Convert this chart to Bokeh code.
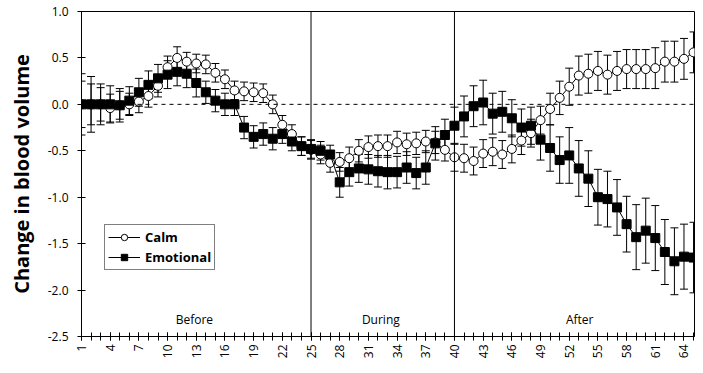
import numpy as np
from bokeh.plotting import figure
from bokeh.models import (ColumnDataSource, Whisker, TeeHead, Span, Label, Legend, LegendItem,
                          FixedTicker, PrintfTickFormatter, Range1d)
from bokeh.embed import file_html
from bokeh.resources import INLINE
from math import pi

# ---- data ----
samples = list(range(1, 66))
calm = [0.0, 0.0, 0.0, -0.04, -0.01, 0.0, 0.03, 0.09, 0.2, 0.4,
        0.5, 0.46, 0.44, 0.43, 0.34, 0.27, 0.15, 0.14, 0.13, 0.12,
        0.0, -0.22, -0.32, -0.45, -0.49, -0.54, -0.63, -0.62, -0.58, -0.5,
        -0.46, -0.45, -0.45, -0.41, -0.43, -0.42, -0.4, -0.41, -0.49, -0.57,
        -0.58, -0.61, -0.53, -0.51, -0.54, -0.48, -0.39, -0.31, -0.17, -0.05,
        0.07, 0.19, 0.31, 0.33, 0.36, 0.32, 0.36, 0.38, 0.38, 0.38,
        0.39, 0.46, 0.46, 0.49, 0.56]
calm_err = [0.25, 0.22, 0.18, 0.15, 0.15, 0.12, 0.12, 0.12, 0.12, 0.12,
            0.12, 0.1, 0.1, 0.1, 0.1, 0.1, 0.1, 0.1, 0.1, 0.1,
            0.1, 0.1, 0.1, 0.1, 0.1, 0.1, 0.1, 0.1, 0.12, 0.12,
            0.12, 0.12, 0.12, 0.12, 0.12, 0.12, 0.12, 0.12, 0.12, 0.15,
            0.15, 0.15, 0.15, 0.15, 0.15, 0.15, 0.15, 0.15, 0.15, 0.17,
            0.18, 0.2, 0.21, 0.21, 0.21, 0.21, 0.21, 0.21, 0.21, 0.21,
            0.22, 0.22, 0.22, 0.22, 0.22]
emotional = [0.0, 0.0, 0.0, 0.0, -0.01, 0.04, 0.13, 0.21, 0.28, 0.32,
             0.35, 0.33, 0.23, 0.13, 0.04, 0.0, 0.0, -0.25, -0.35, -0.32,
             -0.37, -0.32, -0.4, -0.45, -0.48, -0.5, -0.54, -0.84, -0.73, -0.69,
             -0.7, -0.72, -0.73, -0.73, -0.68, -0.74, -0.68, -0.42, -0.33, -0.23,
             -0.13, -0.02, 0.02, -0.1, -0.08, -0.15, -0.25, -0.23, -0.38, -0.47,
             -0.6, -0.55, -0.69, -0.8, -1.0, -1.02, -1.11, -1.29, -1.43, -1.36,
             -1.44, -1.59, -1.69, -1.64, -1.65]
emotional_err = [0.33, 0.3, 0.22, 0.2, 0.18, 0.15, 0.15, 0.15, 0.15, 0.15,
                 0.15, 0.15, 0.15, 0.12, 0.12, 0.12, 0.12, 0.12, 0.12, 0.12,
                 0.12, 0.1, 0.1, 0.1, 0.1, 0.1, 0.1, 0.16, 0.15, 0.15,
                 0.16, 0.17, 0.18, 0.17, 0.17, 0.17, 0.18, 0.18, 0.17, 0.2,
                 0.22, 0.22, 0.24, 0.22, 0.22, 0.2, 0.2, 0.2, 0.22, 0.25,
                 0.25, 0.3, 0.3, 0.3, 0.3, 0.3, 0.3, 0.3, 0.35, 0.35,
                 0.35, 0.35, 0.36, 0.35, 0.38]
phase_bounds = [25, 40]
phase_names = ["Before", "During", "After"]
phase_label_x = [12.8, 32.3, 53.1]
phase_label_y = -2.32
x_tick_labels = list(range(1, 66, 3))
y_ticks = [-2.5, -2.0, -1.5, -1.0, -0.5, 0.0, 0.5, 1.0]

FONT = "Open Sans"

src_c = ColumnDataSource(dict(x=samples, y=calm,
                              lo=[v - e for v, e in zip(calm, calm_err)],
                              hi=[v + e for v, e in zip(calm, calm_err)]))
src_e = ColumnDataSource(dict(x=samples, y=emotional,
                              lo=[v - e for v, e in zip(emotional, emotional_err)],
                              hi=[v + e for v, e in zip(emotional, emotional_err)]))

p = figure(width=695, height=365, output_backend="svg", toolbar_location=None,
           x_range=Range1d(1, 65.1), y_range=Range1d(-2.5, 1.0),
           min_border_left=81, min_border_right=1, min_border_top=11, min_border_bottom=29)
p.grid.visible = False
p.outline_line_color = "black"
p.outline_line_width = 1
p.background_fill_color = "white"

# phase boundaries and zero line
for b in phase_bounds:
    p.add_layout(Span(location=b, dimension="height", line_color="black", line_width=1))
p.add_layout(Span(location=0, dimension="width", line_color="black", line_width=1, line_dash="4 4"))

# error bars
for src in (src_c, src_e):
    w = Whisker(source=src, base="x", lower="lo", upper="hi", line_color="black", line_width=1,
                upper_head=TeeHead(size=8, line_color="black", line_width=1),
                lower_head=TeeHead(size=8, line_color="black", line_width=1))
    p.add_layout(w)

lc = p.line("x", "y", source=src_c, line_color="black", line_width=1)
sc = p.scatter("x", "y", source=src_c, marker="circle", size=9, fill_color="white",
               line_color="black", line_width=1)
le = p.line("x", "y", source=src_e, line_color="black", line_width=1)
se = p.scatter("x", "y", source=src_e, marker="square", size=9, fill_color="black",
               line_color="black")

legend = Legend(items=[LegendItem(label="Calm", renderers=[lc, sc]),
                       LegendItem(label="Emotional", renderers=[le, se])],
                location=(23, 66))
legend.border_line_color = "black"
legend.border_line_width = 1
legend.background_fill_alpha = 1
legend.label_text_font = FONT
legend.label_text_font_style = "bold"
legend.label_text_font_size = "13px"
legend.label_text_color = "black"
legend.glyph_width = 32
legend.glyph_height = 16
legend.padding = 3
legend.spacing = 2
legend.label_standoff = 5
legend.margin = 0
p.add_layout(legend)

for name, xx in zip(phase_names, phase_label_x):
    p.add_layout(Label(x=xx, y=phase_label_y, text=name, text_align="center",
                       text_baseline="middle", text_font=FONT, text_font_size="12px",
                       text_color="black"))

# axes
xa = p.xaxis[0]
xa.ticker = FixedTicker(ticks=x_tick_labels, minor_ticks=samples)
xa.major_label_orientation = pi / 2
xa.major_label_text_font = FONT
xa.major_label_text_font_size = "12px"
xa.major_label_text_color = "black"
xa.major_label_standoff = 4
xa.major_tick_in = 4
xa.major_tick_out = 4
xa.minor_tick_in = 4
xa.minor_tick_out = 4
xa.axis_line_color = "black"
xa.major_tick_line_color = "black"
xa.minor_tick_line_color = "black"

ya = p.yaxis[0]
ya.ticker = FixedTicker(ticks=y_ticks)
ya.formatter = PrintfTickFormatter(format="%.1f")
ya.major_label_text_font = FONT
ya.major_label_text_font_size = "12px"
ya.major_label_text_color = "black"
ya.major_label_standoff = 9
ya.major_tick_in = 4
ya.major_tick_out = 4
ya.major_tick_line_color = "black"
ya.minor_tick_line_color = None
ya.axis_label = "Change in blood volume"
ya.axis_label_text_font = FONT
ya.axis_label_text_font_style = "bold"
ya.axis_label_text_font_size = "20px"
ya.axis_label_text_color = "black"
ya.axis_label_standoff = 10
ya.axis_line_color = "black"

open("out.html", "w").write(file_html(p, INLINE))
